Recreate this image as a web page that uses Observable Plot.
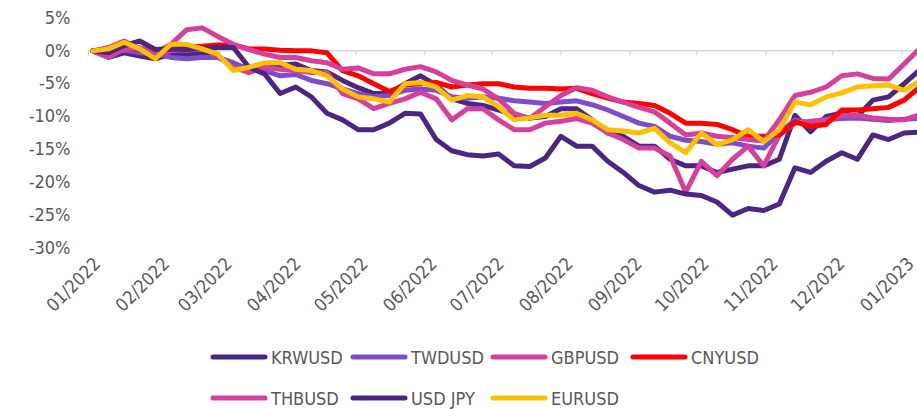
<!DOCTYPE html>
<html>
<head>
<meta charset="utf-8">
<script src="https://cdn.jsdelivr.net/npm/d3@7"></script>
<script src="https://cdn.jsdelivr.net/npm/@observablehq/plot@0.6"></script>
<style>
  html, body { margin: 0; padding: 0; background: #fff; }
  #wrap { width: 917px; height: 409px; position: relative; overflow: hidden;
          font-family: "DejaVu Sans Condensed", "DejaVu Sans", sans-serif; color: #595959; }
  #legend { position: relative; width: 917px; height: 74px; }
  .item { position: absolute; display: flex; align-items: center; height: 24px; font-size: 18px; white-space: nowrap; }
  .item svg { display: block; margin-right: 3px; }
</style>
</head>
<body>
<div id="wrap">
  <div id="chart"></div>
  <div id="legend"></div>
</div>
<script>
// Weekly observation dates
const dates = [
  "2022-01-03","2022-01-10","2022-01-17","2022-01-24","2022-01-31",
  "2022-02-07","2022-02-14","2022-02-21","2022-02-28",
  "2022-03-07","2022-03-14","2022-03-21","2022-03-28",
  "2022-04-04","2022-04-11","2022-04-18","2022-04-25",
  "2022-05-02","2022-05-09","2022-05-16","2022-05-23","2022-05-30",
  "2022-06-06","2022-06-13","2022-06-20","2022-06-27",
  "2022-07-04","2022-07-11","2022-07-18","2022-07-25",
  "2022-08-01","2022-08-08","2022-08-15","2022-08-22","2022-08-29",
  "2022-09-05","2022-09-12","2022-09-19","2022-09-26",
  "2022-10-03","2022-10-10","2022-10-17","2022-10-24","2022-10-31",
  "2022-11-07","2022-11-14","2022-11-21","2022-11-28",
  "2022-12-05","2022-12-12","2022-12-19","2022-12-26",
  "2023-01-02","2023-01-08"
];

// Cumulative change vs USD, percent
const KRWUSD = [0,-1.0,-0.3,-0.8,-1.2, -0.5,-0.6,-0.5,-1.0, -2.0,-2.8,-2.0,-2.2, -2.0,-3.0,-3.2,-4.5,
  -5.6,-6.5,-6.5,-5.0,-3.8, -5.2,-7.3,-8.0,-8.3, -9.0,-9.8,-10.2,-10.0, -8.8,-8.8,-10.5,-12.5,-13.0,
  -14.5,-14.5,-16.5,-17.5, -17.5,-18.5,-18.0,-17.5,-17.5, -16.5,-9.8,-12.3,-10.0, -9.5,-10.0,-7.5,-7.0, -5.0,-3.2];
const TWDUSD = [0,-0.2,0.1,-0.3,-0.4, -1.0,-1.2,-1.0,-1.0, -1.8,-2.8,-3.0,-3.8, -3.6,-4.5,-5.0,-5.8,
  -6.5,-7.0,-6.8,-6.0,-5.8, -6.0,-7.0,-7.2,-7.0, -7.2,-7.6,-7.8,-8.0, -7.8,-7.6,-8.2,-9.0,-10.0,
  -11.0,-11.5,-13.0,-13.6, -13.8,-14.2,-14.0,-14.5,-14.8, -12.5,-10.5,-11.0,-10.5, -10.3,-10.2,-10.4,-10.6, -10.4,-10.3];
const GBPUSD = [0,0.5,1.5,0.3,-0.5, 0.0,0.2,0.5,-0.8, -2.5,-3.3,-2.5,-2.8, -3.0,-3.3,-3.3,-6.5,
  -7.3,-8.8,-8.0,-7.3,-6.3, -7.3,-10.5,-8.8,-8.8, -10.5,-12.0,-12.0,-11.0, -10.7,-10.3,-11.0,-12.5,-13.5,
  -14.8,-14.8,-16.0,-21.5, -16.8,-19.0,-16.5,-14.5,-17.5, -12.8,-11.0,-10.7,-10.5, -9.8,-9.8,-10.2,-10.4, -10.5,-9.8];
const CNYUSD = [0,0.2,0.4,0.3,0.2, 0.3,0.6,0.7,0.9, 0.9,0.3,0.3,0.1, 0.0,0.0,-0.3,-3.0,
  -3.8,-5.0,-6.2,-5.2,-5.0, -4.8,-5.5,-5.2,-5.0, -5.0,-5.5,-5.7,-5.7, -5.8,-5.7,-6.5,-7.2,-7.8,
  -8.0,-8.3,-9.5,-11.0, -11.0,-11.2,-12.0,-13.0,-13.0, -12.8,-10.8,-11.5,-11.2, -9.0,-9.0,-8.8,-8.6, -7.5,-5.8];
const THBUSD = [0,-1.0,0.3,0.5,-0.3, 1.0,3.2,3.5,2.2, 1.0,0.2,-0.5,-1.0, -1.0,-1.5,-1.8,-2.8,
  -2.6,-3.5,-3.5,-2.8,-2.4, -3.2,-4.5,-5.2,-5.8, -7.3,-9.5,-10.3,-8.5, -6.8,-5.6,-6.0,-7.0,-7.8,
  -8.6,-9.3,-11.0,-12.8, -12.5,-13.0,-13.2,-13.5,-13.7, -10.5,-6.8,-6.3,-5.5, -3.8,-3.5,-4.2,-4.3, -2.0,0.0];
const USDJPY = [0,-0.3,0.8,1.5,0.2, 0.3,0.2,0.3,0.5, 0.5,-2.5,-3.5,-6.5, -5.5,-7.0,-9.5,-10.5,
  -12.0,-12.0,-11.0,-9.5,-9.6, -13.5,-15.2,-15.8,-16.0, -15.7,-17.5,-17.6,-16.3, -13.0,-14.5,-14.5,-16.8,-18.5,
  -20.5,-21.5,-21.2,-21.8, -22.0,-23.0,-25.0,-24.0,-24.3, -23.3,-17.8,-18.5,-16.8, -15.5,-16.5,-12.8,-13.5, -12.5,-12.4];
const EURUSD = [0,0.3,1.3,0.3,-1.2, 1.0,1.0,0.3,-0.5, -3.0,-2.5,-1.8,-1.8, -2.8,-3.0,-3.8,-5.8,
  -7.0,-7.3,-7.8,-5.0,-4.8, -5.5,-7.5,-6.8,-7.0, -8.5,-10.5,-10.2,-9.8, -9.8,-9.5,-10.5,-12.0,-12.2,
  -12.5,-11.8,-14.0,-15.5, -12.5,-14.3,-13.5,-12.0,-13.8, -12.0,-7.8,-8.2,-7.0, -6.4,-5.5,-5.3,-5.2, -6.0,-4.8];

const seriesNames = ["KRWUSD","TWDUSD","GBPUSD","CNYUSD","THBUSD","USD JPY","EURUSD"];
const seriesValues = [KRWUSD, TWDUSD, GBPUSD, CNYUSD, THBUSD, USDJPY, EURUSD];
const seriesColors = ["#4b2682","#7d4dcc","#d6409a","#ff0000","#d6409a","#4b2682","#ffc000"];

const yTicks = [5, 0, -5, -10, -15, -20, -25, -30];
const xDomain = ["2022-01-01", "2023-01-08"];
const monthTicks = d3.utcMonth.range(new Date("2022-01-01"), new Date("2023-01-02"));

const parse = d3.utcParse("%Y-%m-%d");
const rows = [];
seriesNames.forEach((name, s) => {
  seriesValues[s].forEach((v, i) => rows.push({date: parse(dates[i]), value: v, series: name}));
});

const chart = Plot.plot({
  width: 917,
  height: 335,
  marginLeft: 88,
  marginRight: 0,
  marginTop: 17.5,
  marginBottom: 87.5,
  style: {fontFamily: '"DejaVu Sans Condensed", "DejaVu Sans", sans-serif', color: "#595959", background: "#fff"},
  x: {type: "utc", domain: xDomain.map(parse), label: null},
  y: {domain: [-30, 5], label: null},
  color: {domain: seriesNames, range: seriesColors},
  marks: [
    Plot.axisY({ticks: yTicks, tickSize: 0, tickPadding: 18, tickFormat: d => d + "%", fontSize: 18, fill: "#595959", label: null}),
    Plot.axisX({ticks: monthTicks, tickSize: 0, tickRotate: -45, tickPadding: 13, dx: 9,
                tickFormat: d3.utcFormat("%m/%Y"), fontSize: 18, fill: "#595959", label: null}),
    Plot.ruleY([0], {stroke: "#d9d9d9", strokeWidth: 1.5}),
    Plot.ruleX(monthTicks, {x: d => d, y1: 0, y2: -0.8, stroke: "#d9d9d9", strokeWidth: 1.5}),
    Plot.line(rows, {x: "date", y: "value", z: "series", stroke: "series",
                     strokeWidth: 5, strokeLinejoin: "round", strokeLinecap: "round"})
  ]
});
document.getElementById("chart").appendChild(chart);

// Legend
const legend = document.getElementById("legend");
seriesNames.forEach((name, i) => {
  const row = i < 4 ? 0 : 1;
  const col = i < 4 ? i : i - 4;
  const item = document.createElement("div");
  item.className = "item";
  item.style.left = (208 + col * 140) + "px";
  item.style.top = (10 + row * 41) + "px";
  item.innerHTML = `<svg width="60" height="10"><line x1="5" y1="5" x2="57" y2="5" stroke="${seriesColors[i]}" stroke-width="5" stroke-linecap="round"/></svg><span>${name}</span>`;
  legend.appendChild(item);
});
</script>
</body>
</html>
